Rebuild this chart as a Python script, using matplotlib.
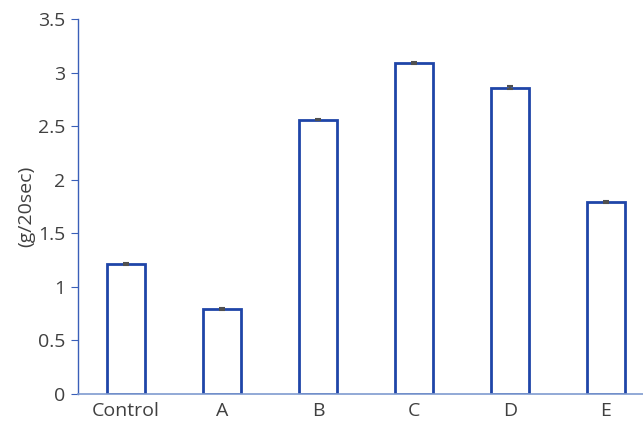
import matplotlib.pyplot as plt
import numpy as np

# data
categories = ['Control', 'A', 'B', 'C', 'D', 'E']
values = [1.21, 0.79, 2.56, 3.09, 2.86, 1.79]
errors = [0.01, 0.01, 0.005, 0.01, 0.01, 0.01]
yticks = [0, 0.5, 1, 1.5, 2, 2.5, 3, 3.5]
ytick_labels = ['0', '0.5', '1', '1.5', '2', '2.5', '3', '3.5']

plt.rcParams['font.family'] = ['Open Sans', 'DejaVu Sans']

fig = plt.figure(figsize=(6.43, 4.23), dpi=100)
ax = fig.add_axes([0.121, 0.0686, 0.879, 0.8865])

x = np.arange(len(categories))
ax.bar(x, values, width=0.4, color='white', edgecolor='#1f45a8', linewidth=2, zorder=2)
ax.errorbar(x, values, yerr=errors, fmt='none', ecolor='#505050', elinewidth=1.5,
            capsize=2.5, capthick=1.5, zorder=3)

ax.set_xlim(-0.5, 5.385)
ax.set_ylim(0, 3.5)
ax.set_yticks(yticks)
ax.set_yticklabels(ytick_labels)
ax.set_xticks(x)
ax.set_xticklabels(categories)

for s in ['top', 'right']:
    ax.spines[s].set_visible(False)
ax.spines['left'].set_color('#3a5fb8')
ax.spines['bottom'].set_color('#7f9bd0')
ax.spines['left'].set_linewidth(1)
ax.spines['bottom'].set_linewidth(1.2)

ax.tick_params(axis='y', length=5, color='#3a5fb8', labelsize=14, labelcolor='#404040', pad=4)
ax.tick_params(axis='x', length=0, labelsize=14, labelcolor='#404040', pad=6)

ax.set_ylabel('(g/20sec)', fontsize=14, color='#404040', labelpad=2)

fig.savefig('out.png', dpi=100)
